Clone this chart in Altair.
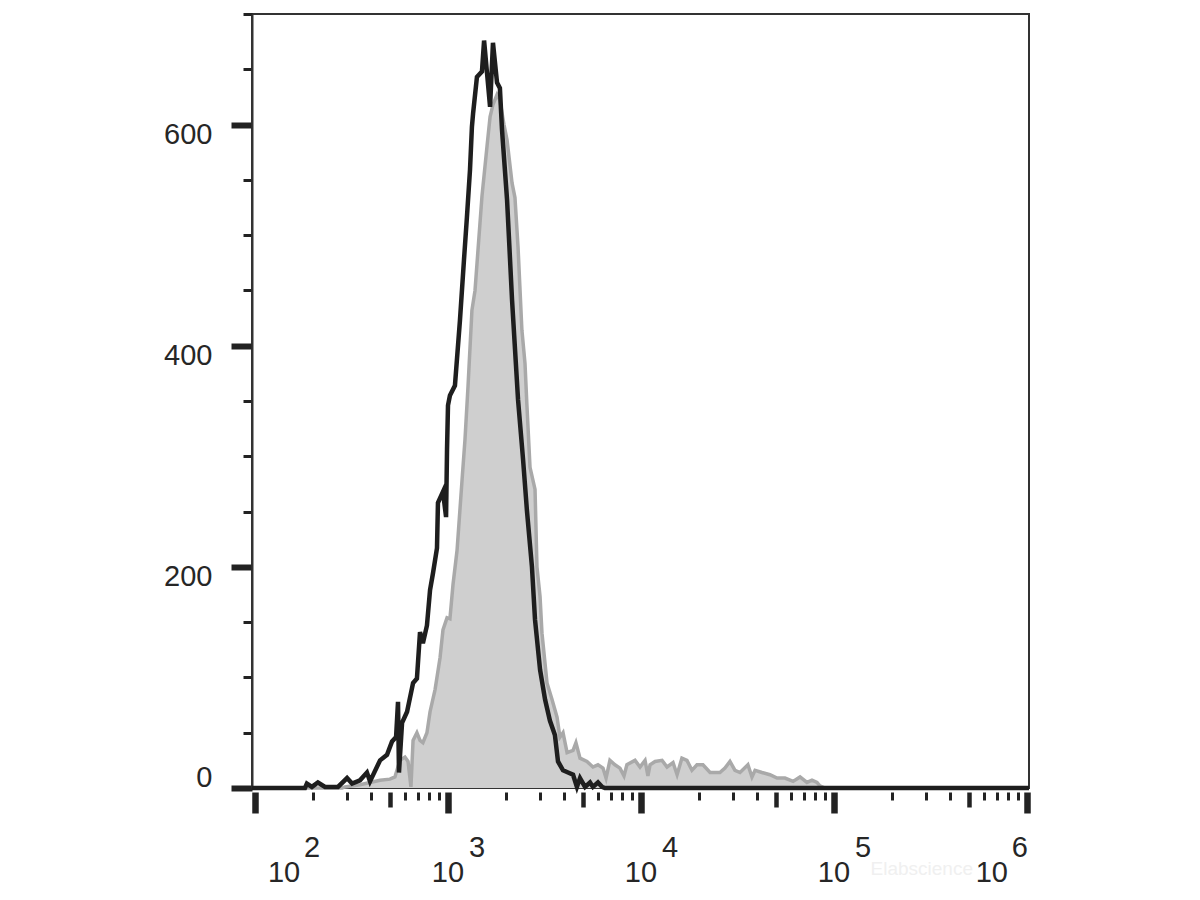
import altair as alt
import pandas as pd

# ---- data (log10 of fluorescence intensity, event count) ----
black_log = [1.9845, 2.259, 2.269, 2.295, 2.326, 2.363, 2.430, 2.477, 2.503, 2.544,
             2.580, 2.596, 2.648, 2.684, 2.710, 2.731, 2.741, 2.746, 2.762, 2.788,
             2.819, 2.839, 2.855, 2.870, 2.891, 2.907, 2.922, 2.943, 2.948, 2.974,
             2.990, 2.995, 3.000, 3.010, 3.036, 3.062, 3.083, 3.098, 3.114, 3.124,
             3.130, 3.150, 3.176, 3.187, 3.202, 3.218, 3.233, 3.254, 3.269, 3.280,
             3.306, 3.332, 3.363, 3.389, 3.409, 3.435, 3.451, 3.477, 3.503, 3.528,
             3.554, 3.570, 3.596, 3.622, 3.648, 3.668, 3.684, 3.710, 3.736, 3.751,
             3.777, 3.798, 3.813, 6.0104]
black_count = [0, 0, 4, 1, 5, 1, 1, 9, 4, 7,
               14, 6, 25, 30, 42, 46, 78, 14, 59, 69,
               95, 99, 141, 131, 147, 179, 194, 217, 258, 268,
               245, 306, 346, 355, 364, 423, 478, 516, 559, 598,
               610, 643, 648, 676, 647, 616, 674, 638, 633, 595,
               532, 441, 351, 297, 251, 200, 152, 107, 80, 61,
               48, 24, 16, 14, 12, 1, 9, 1, 5, 1,
               5, 1, 0, 0]

gray_log = [1.9845, 2.451, 2.466, 2.544, 2.596, 2.648, 2.699, 2.725, 2.751, 2.777,
            2.793, 2.808, 2.819, 2.839, 2.855, 2.870, 2.891, 2.907, 2.933, 2.959,
            2.974, 2.995, 3.010, 3.026, 3.047, 3.073, 3.088, 3.104, 3.124, 3.140,
            3.176, 3.202, 3.218, 3.233, 3.254, 3.269, 3.290, 3.306, 3.332, 3.347,
            3.363, 3.383, 3.399, 3.409, 3.425, 3.451, 3.461, 3.477, 3.487, 3.513,
            3.539, 3.565, 3.580, 3.596, 3.617, 3.648, 3.663, 3.684, 3.720, 3.751,
            3.777, 3.803, 3.819, 3.839, 3.865, 3.891, 3.912, 3.927, 3.969, 3.995,
            4.021, 4.036, 4.047, 4.073, 4.109, 4.135, 4.166, 4.187, 4.212, 4.238,
            4.264, 4.290, 4.321, 4.358, 4.409, 4.435, 4.461, 4.487, 4.513, 4.554,
            4.575, 4.591, 4.627, 4.668, 4.705, 4.746, 4.788, 4.824, 4.860, 4.886,
            4.912, 4.927, 4.953, 6.0104]
gray_count = [0, 0, 1, 3, 5, 7, 8, 10, 25, 28,
              24, 1, 43, 50, 43, 41, 50, 69, 89, 118,
              143, 154, 153, 184, 215, 279, 315, 364, 432, 450,
              535, 580, 607, 618, 627, 622, 600, 586, 547, 534,
              489, 414, 384, 346, 290, 270, 200, 173, 140, 95,
              80, 64, 46, 50, 32, 34, 41, 27, 24, 19,
              21, 18, 9, 25, 21, 18, 11, 21, 25, 19,
              25, 11, 21, 24, 25, 19, 23, 12, 27, 25,
              16, 21, 21, 14, 14, 18, 24, 16, 14, 21,
              10, 16, 14, 12, 9, 9, 6, 10, 5, 7,
              5, 2, 0, 0]

decade_exps = [2, 3, 4, 5, 6]
y_tick_values = list(range(0, 701, 50))
x_tick_values = [k * 10 ** d for d in range(2, 6) for k in range(1, 10)] + [10 ** 6]

X_LOG_MIN, X_LOG_MAX = 1.9845, 6.0104
Y_MAX = 700

# ---- tables ----
black = pd.DataFrame({"x": [10 ** v for v in black_log], "count": black_count})
gray = pd.DataFrame({"x": [10 ** v for v in gray_log], "count": gray_count})
labels = pd.DataFrame({"x": [10 ** e for e in decade_exps],
                       "e": decade_exps,
                       "base": ["10"] * len(decade_exps),
                       "exp": [str(e) for e in decade_exps]})

FONT = "Liberation Sans"
TXT = "#262626"
FS = 29

MAJOR_X = "datum.value == pow(10, round(log(datum.value) / LN10))"
MED_X = "datum.value == 5 * pow(10, floor(log(datum.value) / LN10 + 1e-9))"
MAJOR_Y = "datum.value % 200 == 0"

xscale = alt.Scale(type="log", domain=[10 ** X_LOG_MIN, 10 ** X_LOG_MAX], nice=False)
yscale = alt.Scale(domain=[0, Y_MAX], nice=False, zero=True)

x_axis = alt.Axis(
    values=x_tick_values, labels=False, domain=False, grid=False, title=None,
    offset=4, tickColor="#222222",
    tickSize={"condition": [{"test": MAJOR_X, "value": 21}, {"test": MED_X, "value": 15}], "value": 8},
    tickWidth={"condition": [{"test": MAJOR_X, "value": 6.5}, {"test": MED_X, "value": 4.5}], "value": 3},
)
y_axis = alt.Axis(
    values=y_tick_values, grid=False, title=None,
    labelExpr="datum.value % 200 == 0 ? datum.label : ''",
    labelFont=FONT, labelFontSize=FS, labelColor=TXT,
    labelOffset={"condition": {"test": "datum.value == 0", "value": -11}, "value": 10},
    labelPadding=19,
    domainColor="#333333", domainWidth=2,
    tickColor="#222222",
    tickSize={"condition": {"test": MAJOR_Y, "value": 21}, "value": 9},
    tickWidth={"condition": {"test": MAJOR_Y, "value": 6}, "value": 3},
)

X = alt.X("x:Q", scale=xscale, axis=x_axis)
Y = alt.Y("count:Q", scale=yscale, axis=y_axis)

gray_area = alt.Chart(gray).mark_area(color="#cfcfcf", interpolate="linear").encode(x=X, y=Y)
gray_line = alt.Chart(gray).mark_line(color="#a9a9a9", strokeWidth=3.5, interpolate="linear").encode(x=X, y=Y)
black_line = alt.Chart(black).mark_line(color="#1e1e1e", strokeWidth=4.5, interpolate="linear").encode(x=X, y=Y)

BASE_Y = 868
SUP_Y = 843


def label_pair(test, base_align, base_dx, sup_align, sup_dx):
    b = alt.Chart(labels).transform_filter(test).mark_text(
        align=base_align, baseline="alphabetic", dx=base_dx, font=FONT, fontSize=FS, color=TXT
    ).encode(x=alt.X("x:Q", scale=xscale), y=alt.value(BASE_Y), text="base:N")
    s = alt.Chart(labels).transform_filter(test).mark_text(
        align=sup_align, baseline="alphabetic", dx=sup_dx, font=FONT, fontSize=FS, color=TXT
    ).encode(x=alt.X("x:Q", scale=xscale), y=alt.value(SUP_Y), text="exp:N")
    return [b, s]


txt_layers = []
txt_layers += label_pair("datum.e == 2", "left", 13, "left", 49)
txt_layers += label_pair("datum.e >= 3 && datum.e <= 5", "center", 0, "left", 21)
txt_layers += label_pair("datum.e == 6", "right", -19, "right", 1)

watermark = alt.Chart(labels).transform_filter("datum.e == 6").mark_text(
    text="Elabscience", align="right", baseline="alphabetic", dx=-54, font=FONT, fontSize=19, color="#f0f0f0"
).encode(x=alt.X("x:Q", scale=xscale), y=alt.value(861))

chart = alt.layer(gray_area, gray_line, black_line, watermark, *txt_layers).properties(
    width=777, height=774,
    autosize=alt.AutoSizeParams(type="none"),
    padding={"left": 244, "top": 6, "right": 30, "bottom": 100},
).configure_view(stroke="#333333", strokeWidth=2).configure_axis(labelFont=FONT)

chart.save("out.html", embed_options={"renderer": "svg", "actions": False})
